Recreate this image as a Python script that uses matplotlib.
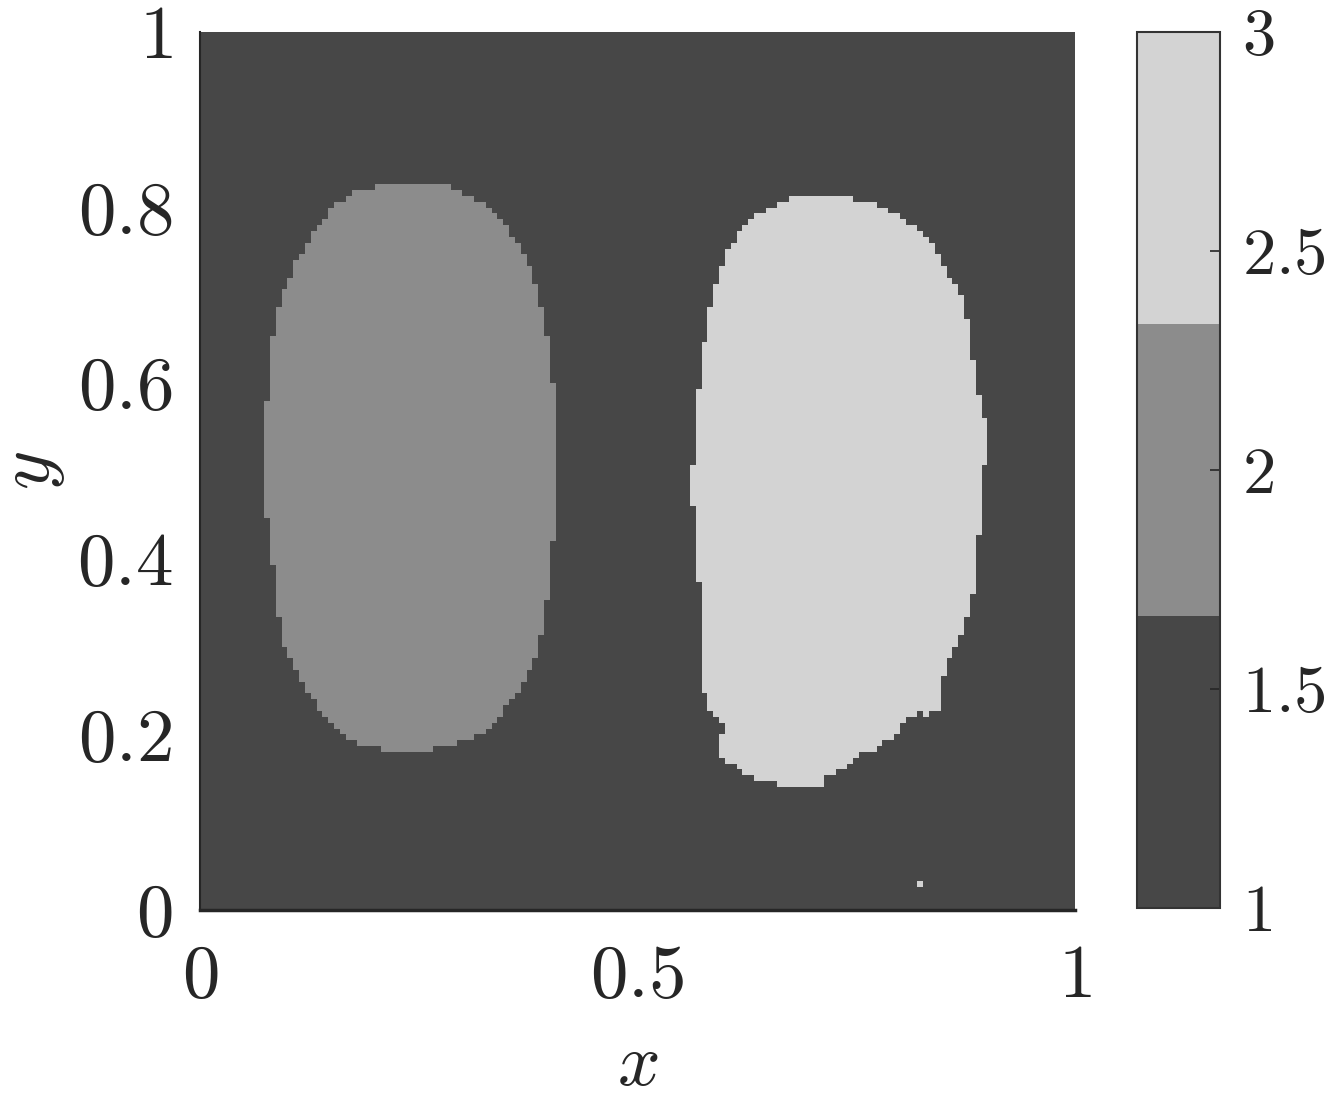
import numpy as np
import matplotlib
matplotlib.use("Agg")
import matplotlib.pyplot as plt
from matplotlib.colors import ListedColormap
from matplotlib.path import Path

# --- data ----------------------------------------------------------------
# boundary of the left blob (value 2), data units
left_x = [0.206, 0.274, 0.297, 0.331, 0.354, 0.377, 0.394, 0.403, 0.408, 0.407,
          0.402, 0.394, 0.383, 0.366, 0.343, 0.320, 0.291, 0.263, 0.229, 0.194,
          0.166, 0.143, 0.120, 0.103, 0.091, 0.086, 0.080, 0.074, 0.071, 0.072,
          0.078, 0.082, 0.091, 0.109, 0.131, 0.154, 0.177]
left_y = [0.825, 0.826, 0.820, 0.801, 0.774, 0.735, 0.672, 0.604, 0.535, 0.467,
          0.399, 0.330, 0.285, 0.251, 0.222, 0.199, 0.188, 0.182, 0.180, 0.185,
          0.196, 0.219, 0.251, 0.285, 0.319, 0.376, 0.421, 0.467, 0.501, 0.535,
          0.592, 0.649, 0.695, 0.735, 0.774, 0.803, 0.817]

# boundary of the right blob (value 3)
right_x = [0.674, 0.720, 0.754, 0.789, 0.817, 0.840, 0.851, 0.869, 0.880, 0.886,
           0.897, 0.899, 0.895, 0.891, 0.888, 0.882, 0.874, 0.863, 0.851, 0.846,
           0.848, 0.829, 0.821, 0.806, 0.794, 0.777, 0.754, 0.741, 0.720, 0.709,
           0.680, 0.663, 0.640, 0.617, 0.597, 0.592, 0.597, 0.603, 0.585, 0.577,
           0.574, 0.571, 0.571, 0.566, 0.563, 0.563, 0.566, 0.571, 0.577, 0.585,
           0.597, 0.606, 0.623, 0.640]
right_y = [0.811, 0.814, 0.809, 0.797, 0.777, 0.757, 0.729, 0.706, 0.661, 0.604,
           0.558, 0.530, 0.490, 0.444, 0.399, 0.353, 0.319, 0.296, 0.273, 0.256,
           0.226, 0.222, 0.226, 0.214, 0.199, 0.185, 0.178, 0.165, 0.154, 0.142,
           0.139, 0.142, 0.148, 0.159, 0.173, 0.191, 0.203, 0.208, 0.226, 0.239,
           0.285, 0.330, 0.370, 0.399, 0.467, 0.501, 0.558, 0.604, 0.649, 0.695,
           0.735, 0.757, 0.780, 0.794]

# stray single cell near the bottom
speck_x, speck_y, speck_val = 0.823, 0.031, 3

background_val = 1
left_val = 2
right_val = 3

gray_levels = ["#474747", "#8c8c8c", "#d3d3d3"]
cbar_ticks = [1, 1.5, 2, 2.5, 3]
axis_ticks = [0, 0.5, 1]
y_ticks = [0, 0.2, 0.4, 0.6, 0.8, 1]

# --- build the field -------------------------------------------------------
N = 150
edges = np.linspace(0, 1, N + 1)
centres = 0.5 * (edges[:-1] + edges[1:])
X, Y = np.meshgrid(centres, centres)
pts = np.column_stack([X.ravel(), Y.ravel()])

field = np.full(X.shape, background_val, dtype=float)
field[Path(np.column_stack([left_x, left_y])).contains_points(pts).reshape(X.shape)] = left_val
field[Path(np.column_stack([right_x, right_y])).contains_points(pts).reshape(X.shape)] = right_val
field[int(speck_y * N), int(speck_x * N)] = speck_val

# --- plot ------------------------------------------------------------------
plt.rcParams["mathtext.fontset"] = "cm"
plt.rcParams["font.family"] = "serif"
plt.rcParams["font.serif"] = ["cmr10", "DejaVu Serif"]
FS = 54       # main axes
FS_CB = 48    # colorbar labels

fig = plt.figure(figsize=(13.25, 10.97), dpi=100)
ax = fig.add_axes([0.1509, 0.1705, 0.6604, 0.8004])
cax = fig.add_axes([0.8581, 0.1723, 0.0626, 0.7985])

cmap = ListedColormap(gray_levels)
im = ax.pcolormesh(edges, edges, field, cmap=cmap, vmin=1, vmax=3, shading="flat")
ax.set_xlim(0, 1)
ax.set_ylim(0, 1)

for side in ("top", "right"):
    ax.spines[side].set_visible(False)
ax.spines["left"].set_linewidth(1.5)
ax.spines["bottom"].set_linewidth(2.5)
for sp in ax.spines.values():
    sp.set_color("#262626")

ax.set_xticks(axis_ticks)
ax.set_xticklabels([f"${t:g}$" for t in axis_ticks], fontsize=FS)
ax.set_yticks(y_ticks)
ax.set_yticklabels([f"${t:g}$" for t in y_ticks], fontsize=FS)
ax.tick_params(axis="x", length=0, pad=25, colors="#262626")
ax.tick_params(axis="y", length=0, pad=20, colors="#262626")
ax.set_xlabel("$x$", fontsize=FS, labelpad=15, color="#262626")
ax.set_ylabel("$y$", fontsize=FS, labelpad=7, color="#262626")

cb = fig.colorbar(im, cax=cax)
cb.set_ticks(cbar_ticks)
cb.set_ticklabels([f"${t:g}$" for t in cbar_ticks])
cax.tick_params(direction="in", length=7, width=1.2, pad=16, labelsize=FS_CB,
                colors="#262626")
cb.outline.set_edgecolor("#333333")
cb.outline.set_linewidth(1.5)

fig.savefig("out.png", dpi=100)
